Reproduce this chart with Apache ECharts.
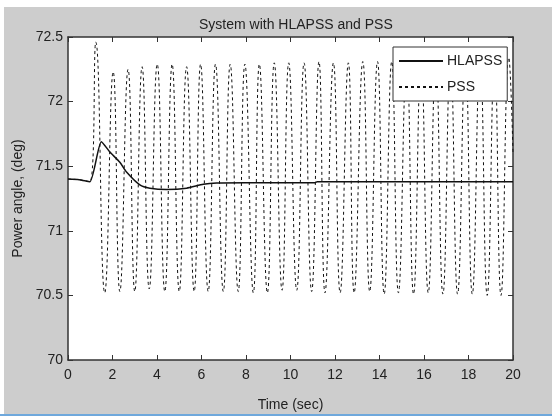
<!DOCTYPE html>
<html>
<head>
<meta charset="utf-8">
<script src="https://cdn.jsdelivr.net/npm/echarts@6/dist/echarts.min.js"></script>
<style>
  html, body { margin: 0; padding: 0; background: #fff; }
  #chart { width: 552px; height: 417px; }
</style>
</head>
<body>
<div id="chart"></div>
<script>
// HLAPSS response
const hlapssTime = [0, 0.5, 0.98, 1.5, 1.88, 2.33, 2.63, 3.23, 3.68, 4.43, 5.33, 6.08, 6.68, 8, 10, 11.1, 11.2, 14, 17, 20];
const hlapssAngle = [71.40, 71.395, 71.38, 71.69, 71.61, 71.53, 71.455, 71.355, 71.33, 71.32, 71.33, 71.36, 71.37, 71.372, 71.372, 71.372, 71.38, 71.38, 71.38, 71.38];

// PSS response: peaks and troughs of the sustained oscillation
const pssTime = [
  0, 0.5, 0.98,
  1.25, 1.65, 2.03, 2.33, 2.70, 3.00, 3.33, 3.65, 4.01, 4.35,
  4.68, 5.00, 5.33, 5.67, 5.96, 6.30, 6.63, 6.98, 7.29, 7.65,
  7.95, 8.33, 8.60, 8.96, 9.27, 9.62, 9.92, 10.28, 10.61, 10.95,
  11.28, 11.55, 11.93, 12.23, 12.60, 12.86, 13.25, 13.56, 13.91, 14.21,
  14.55, 14.85, 15.22, 15.53, 15.87, 16.19, 16.53, 16.85, 17.19, 17.51,
  17.86, 18.17, 18.52, 18.84, 19.17, 19.46, 19.81, 20
];
const pssAngle = [
  71.40, 71.395, 71.38,
  72.46, 70.52, 72.23, 70.53, 72.25, 70.53, 72.27, 70.55, 72.29, 70.53,
  72.29, 70.53, 72.27, 70.53, 72.29, 70.53, 72.29, 70.53, 72.29, 70.53,
  72.29, 70.52, 72.29, 70.52, 72.30, 70.54, 72.30, 70.54, 72.30, 70.53,
  72.31, 70.52, 72.30, 70.52, 72.30, 70.52, 72.31, 70.53, 72.31, 70.51,
  72.31, 70.52, 72.31, 70.51, 72.32, 70.52, 72.32, 70.51, 72.32, 70.51,
  72.32, 70.51, 72.33, 70.50, 72.33, 70.50, 72.34, 71.6
];

const font = 'Liberation Sans, Arial, sans-serif';
const ink = '#222';

function pairs(xs, ys) {
  return xs.map(function (x, i) { return [x, ys[i]]; });
}

const axisLine = { show: true, onZero: false, lineStyle: { color: '#333', width: 1.5 } };
const axisTick = { show: true, inside: true, length: 5, lineStyle: { color: '#333', width: 1 } };

const chart = echarts.init(document.getElementById('chart'));
chart.setOption({
  backgroundColor: '#cdcdcd',
  animation: false,
  title: {
    text: 'System with HLAPSS and PSS',
    left: 194,
    top: 13,
    textStyle: { fontFamily: font, fontSize: 14, fontWeight: 'normal', color: ink }
  },
  legend: {
    left: 393,
    top: 47,
    orient: 'vertical',
    backgroundColor: '#fff',
    borderColor: '#333',
    borderWidth: 1,
    borderRadius: 0,
    padding: [7, 5, 7, 5],
    itemGap: 12,
    itemWidth: 44,
    itemHeight: 16,
    itemStyle: { opacity: 0 },
    textStyle: { fontFamily: font, fontSize: 14, color: ink, padding: [0, 0, 0, -1] },
    data: ['HLAPSS', 'PSS']
  },
  graphic: [
    { type: 'rect', shape: { x: 0, y: 0, width: 552, height: 7 }, style: { fill: '#fff' }, silent: true },
    { type: 'rect', shape: { x: 0, y: 0, width: 4, height: 417 }, style: { fill: '#fff' }, silent: true },
    { type: 'rect', shape: { x: 0, y: 414, width: 552, height: 3 }, style: { fill: '#fff' }, silent: true },
    { type: 'rect', shape: { x: 0, y: 414, width: 552, height: 2 }, style: { fill: '#6fa8dc' }, silent: true }
  ],
  grid: {
    left: 68, right: 39, top: 37, bottom: 53,
    show: true, backgroundColor: '#fff', borderWidth: 0
  },
  xAxis: [{
    type: 'value', min: 0, max: 20, interval: 2, position: 'bottom',
    axisLine: axisLine, axisTick: axisTick, splitLine: { show: false },
    axisLabel: { fontFamily: font, fontSize: 14, color: ink, margin: 8 },
    name: 'Time (sec)', nameLocation: 'middle', nameGap: 38,
    nameTextStyle: { fontFamily: font, fontSize: 14, color: ink }
  }, {
    type: 'value', min: 0, max: 20, interval: 2, position: 'top',
    axisLine: axisLine, axisTick: axisTick, splitLine: { show: false },
    axisLabel: { show: false }
  }],
  yAxis: [{
    type: 'value', min: 70, max: 72.5, interval: 0.5, position: 'left',
    axisLine: axisLine, axisTick: axisTick, splitLine: { show: false },
    axisLabel: { fontFamily: font, fontSize: 14, color: ink, margin: 5 },
    name: 'Power angle, (deg)', nameLocation: 'middle', nameGap: 36,
    nameTextStyle: { fontFamily: font, fontSize: 14, color: ink }
  }, {
    type: 'value', min: 70, max: 72.5, interval: 0.5, position: 'right',
    axisLine: axisLine, axisTick: axisTick, splitLine: { show: false },
    axisLabel: { show: false }
  }],
  series: [{
    name: 'PSS',
    type: 'line',
    xAxisIndex: 0, yAxisIndex: 0,
    symbol: 'none',
    smooth: true,
    lineStyle: { color: '#111', width: 1, type: [3, 3] },
    itemStyle: { color: '#111' },
    data: pairs(pssTime, pssAngle),
    z: 2
  }, {
    name: 'HLAPSS',
    type: 'line',
    xAxisIndex: 0, yAxisIndex: 0,
    symbol: 'none',
    smooth: 0.2,
    lineStyle: { color: '#111', width: 1.5, type: 'solid' },
    itemStyle: { color: '#111' },
    data: pairs(hlapssTime, hlapssAngle),
    z: 3
  }]
});
</script>
</body>
</html>
